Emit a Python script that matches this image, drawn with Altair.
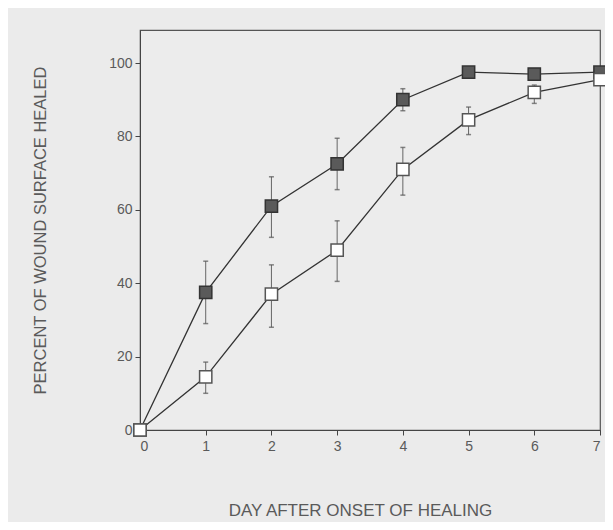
import altair as alt
import pandas as pd

days = [0, 1, 2, 3, 4, 5, 6, 7]
treated = [0, 37.5, 61, 72.5, 90, 97.5, 97, 97.5]
treated_lo = [0, 29, 52.5, 65.5, 87, 97.5, 97, 97.5]
treated_hi = [0, 46, 69, 79.5, 93, 97.5, 97, 97.5]
control = [0, 14.5, 37, 49, 71, 84.5, 92, 95.5]
control_lo = [0, 10, 28, 40.5, 64, 80.5, 89, 95.5]
control_hi = [0, 18.5, 45, 57, 77, 88, 94, 95.5]
groups = ["treated", "control"]

rows = []
for g, v, lo, hi in [("treated", treated, treated_lo, treated_hi),
                     ("control", control, control_lo, control_hi)]:
    for d, a, l, h in zip(days, v, lo, hi):
        rows.append({"day": d, "value": a, "lo": l, "hi": h, "group": g})
df = pd.DataFrame(rows)
err = df[df["hi"] > df["lo"]]

FONT = "Liberation Sans"
GRAY = "#5a5a5a"

x = alt.X("day:Q", scale=alt.Scale(domain=[0, 7], nice=False),
          axis=alt.Axis(title="DAY AFTER ONSET OF HEALING", values=days,
                        format="d", labelFontSize=14, titleFontSize=17,
                        titleFontWeight="normal", labelColor=GRAY, titleColor=GRAY,
                        domainColor="#444", tickColor="#444", tickSize=5,
                        labelPadding=4, titleX=220, titleY=80, titleBaseline="middle",
                        grid=False, labelFont=FONT, titleFont=FONT))
y = alt.Y("value:Q", scale=alt.Scale(domain=[0, 109], nice=False),
          axis=alt.Axis(title="PERCENT OF WOUND SURFACE HEALED",
                        values=[0, 20, 40, 60, 80, 100], labelFontSize=14,
                        titleFontSize=16.5, titleFontWeight="normal",
                        labelColor=GRAY, titleColor=GRAY, domainColor="#444",
                        tickColor="#444", tickSize=5, labelPadding=3,
                        titleX=-100, titleY=200, titleBaseline="middle", grid=False,
                        labelFont=FONT, titleFont=FONT))

color = alt.Color("group:N", scale=alt.Scale(domain=groups, range=["#333", "#333"]), legend=None)
fill = alt.Fill("group:N", scale=alt.Scale(domain=groups, range=["#5a5a5a", "#ffffff"]), legend=None)

base = alt.Chart(df)

lines = base.mark_line(strokeWidth=1.3).encode(x=x, y=y, color=color, detail="group:N")

ebase = alt.Chart(err)
rules = ebase.mark_rule(color="#666", strokeWidth=1).encode(x="day:Q", y="lo:Q", y2="hi:Q")
caps_hi = ebase.mark_tick(color="#555", thickness=1.5, size=5, orient="horizontal").encode(x="day:Q", y="hi:Q")
caps_lo = ebase.mark_tick(color="#555", thickness=1.5, size=5, orient="horizontal").encode(x="day:Q", y="lo:Q")

points = base.mark_point(shape="square", size=150, filled=False, strokeWidth=1.5, opacity=1).encode(
    x=x, y=y, fill=fill, stroke=alt.Stroke("group:N", scale=alt.Scale(domain=groups, range=["#333", "#555"]), legend=None))

chart = alt.layer(rules, caps_hi, caps_lo, lines, points).properties(
    width=460, height=400,
    background="#ebebeb",
    autosize=alt.AutoSizeParams(type="none"),
    padding={"left": 132, "top": 22, "right": 5, "bottom": 92},
).configure_view(stroke="#555", strokeWidth=1.2, fill="#ececec")

chart.save("out.html", embed_options={"renderer": "svg", "actions": False})
